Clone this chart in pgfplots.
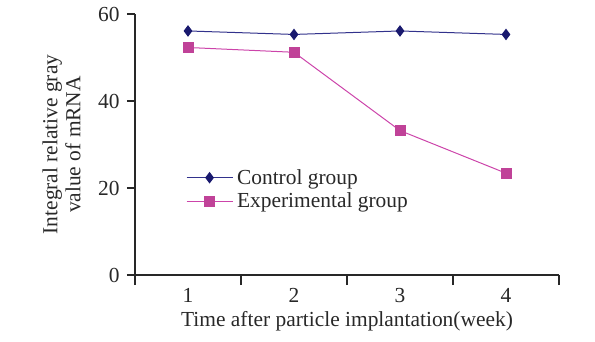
\documentclass[border=0pt]{standalone}
\usepackage{fontspec}
\setmainfont{Liberation Serif}
\usepackage{pgfplots}
\pgfplotsset{compat=1.18}
\definecolor{ctrlline}{RGB}{50,50,140}
\definecolor{ctrlmark}{RGB}{25,25,110}
\definecolor{expline}{RGB}{204,68,170}
\definecolor{expmark}{RGB}{192,66,152}
\definecolor{axcol}{RGB}{40,40,40}
\begin{document}
\begin{tikzpicture}
\path[use as bounding box] (0,0) rectangle (595bp,342bp);
\begin{axis}[
  at={(135bp,67bp)}, anchor=south west,
  scale only axis, width=424bp, height=261bp,
  xmin=0.5, xmax=4.5, ymin=0, ymax=60,
  axis x line=bottom, axis y line=left,
  axis line style={-, axcol, line width=1.1bp},
  xtick={1,2,3,4}, ytick={0,20,40,60},
  minor xtick={0.5,1.5,2.5,3.5,4.5},
  tick align=outside,
  major tick length=8bp, minor tick length=10bp,
  every tick/.style={axcol, line width=1.1bp},
  major x tick style={draw=none},
  tick label style={font=\fontsize{21.5}{25}\selectfont, text=axcol},
  xticklabel style={inner sep=1bp, yshift=-4bp},
  yticklabel style={xshift=-4bp},
  /pgf/number format/assume math mode=true,
  label style={font=\fontsize{21.5}{23}\selectfont, text=axcol},
  xlabel={Time after particle implantation(week)},
  ylabel={Integral relative gray\\value of mRNA},
  xlabel style={at={(axis description cs:0.5,-0.176)}, anchor=center, inner sep=1bp},
  ylabel style={at={(axis description cs:-0.1733,0.5)}, anchor=center, align=center},
  legend style={at={(axis description cs:0.12,0.328)}, anchor=west, draw=none, fill=none,
    font=\fontsize{21.5}{25}\selectfont, text=axcol, row sep=3bp, inner sep=0pt,
    nodes={inner xsep=4bp}},
  legend cell align=left,
  legend image code/.code={\draw[mark repeat=2,mark phase=2,#1] plot coordinates {(0bp,0bp) (23bp,0bp) (46bp,0bp)};},
]
\addplot[ctrlline, line width=1bp, mark=diamond*, mark size=5bp, mark options={fill=ctrlmark, draw=ctrlmark}]
  coordinates {(1,56.1) (2,55.3) (3,56.1) (4,55.3)};
\addlegendentry{Control group}
\addplot[expline, line width=1bp, mark=square*, mark size=5bp, mark options={fill=expmark, draw=expmark}]
  coordinates {(1,52.3) (2,51.2) (3,33.2) (4,23.4)};
\addlegendentry{Experimental group}
\end{axis}
\end{tikzpicture}
\end{document}
